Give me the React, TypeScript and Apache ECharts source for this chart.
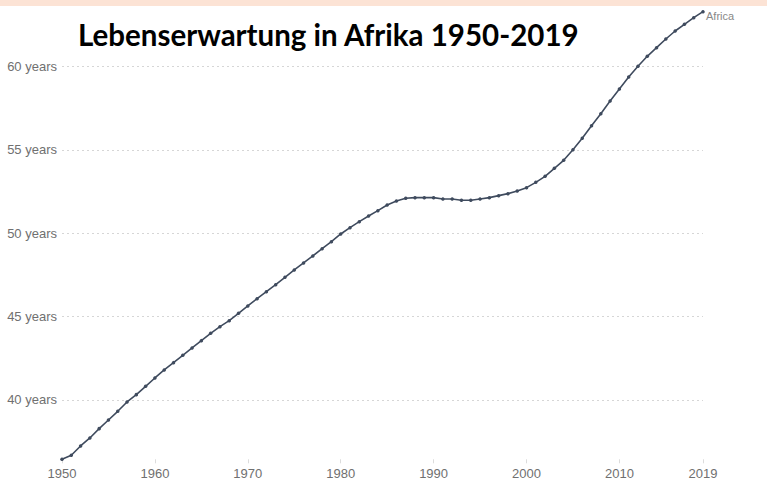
import React, { useEffect, useRef } from "react";
import * as echarts from "echarts";

const years = [
  1950, 1951, 1952, 1953, 1954, 1955, 1956, 1957, 1958, 1959,
  1960, 1961, 1962, 1963, 1964, 1965, 1966, 1967, 1968, 1969,
  1970, 1971, 1972, 1973, 1974, 1975, 1976, 1977, 1978, 1979,
  1980, 1981, 1982, 1983, 1984, 1985, 1986, 1987, 1988, 1989,
  1990, 1991, 1992, 1993, 1994, 1995, 1996, 1997, 1998, 1999,
  2000, 2001, 2002, 2003, 2004, 2005, 2006, 2007, 2008, 2009,
  2010, 2011, 2012, 2013, 2014, 2015, 2016, 2017, 2018, 2019,
];

const lifeExpectancy = [
  36.44, 36.68, 37.24, 37.72, 38.28, 38.8, 39.32, 39.88, 40.32, 40.82,
  41.32, 41.8, 42.24, 42.68, 43.12, 43.56, 44.0, 44.4, 44.76, 45.2,
  45.64, 46.08, 46.5, 46.92, 47.36, 47.8, 48.22, 48.64, 49.08, 49.5,
  49.96, 50.34, 50.7, 51.04, 51.36, 51.7, 51.94, 52.1, 52.14, 52.14,
  52.14, 52.06, 52.06, 51.98, 51.98, 52.06, 52.14, 52.26, 52.38, 52.54,
  52.74, 53.06, 53.42, 53.9, 54.38, 55.02, 55.7, 56.46, 57.18, 57.94,
  58.66, 59.38, 60.02, 60.62, 61.14, 61.66, 62.14, 62.54, 62.94, 63.3,
];

const seriesName = "Africa";
const titleText = "Lebenserwartung in Afrika 1950-2019";
const xTickLabels = ["1950", "1960", "1970", "1980", "1990", "2000", "2010", "2019"];

export default function App() {
  const ref = useRef<HTMLDivElement>(null);

  useEffect(() => {
    if (!ref.current) return;
    const chart = echarts.init(ref.current, null, { renderer: "svg" });
    const data = years.map((y, i) => [y, lifeExpectancy[i]]);
    chart.setOption({
      animation: false,
      backgroundColor: "#ffffff",
      graphic: [
        {
          type: "rect",
          left: 0,
          top: 0,
          shape: { width: 767, height: 6 },
          style: { fill: "#fce3d5" },
          z: 10,
        },
      ],
      title: {
        text: titleText,
        left: 73,
        top: 14,
        textStyle: {
          fontFamily: "Lato",
          fontWeight: "bold",
          fontSize: 29.5,
          color: "#000000",
        },
      },
      grid: { left: 62, right: 64, top: 10, bottom: 17.7, containLabel: false },
      xAxis: {
        type: "value",
        min: 1950,
        max: 2019,
        interval: 10,
        axisLine: { show: false },
        axisTick: { show: true, inside: true, length: 4, lineStyle: { color: "#dcdcdc" } },
        splitLine: { show: false },
        axisLabel: {
          margin: 4,
          color: "#707070",
          fontFamily: "Liberation Sans",
          fontSize: 13,
          showMaxLabel: true,
          formatter: (v: number) => {
            const s = String(v);
            return xTickLabels.includes(s) ? s : "";
          },
        },
      },
      yAxis: {
        type: "value",
        min: 36.2,
        max: 63.4,
        splitNumber: 5,
        minInterval: 5,
        maxInterval: 5,
        axisLine: { show: false },
        axisTick: { show: false },
        axisLabel: {
          margin: 5,
          color: "#707070",
          fontFamily: "Liberation Sans",
          fontSize: 13,
          showMinLabel: false,
          showMaxLabel: false,
          formatter: (v: number) => (v % 5 === 0 ? `${v} years` : ""),
        },
        splitLine: {
          show: true,
          showMinLine: false,
          showMaxLine: false,
          lineStyle: { color: "#d6d6d6", type: [2, 3], width: 1 },
        },
      },
      series: [
        {
          name: seriesName,
          type: "line",
          data,
          symbol: "circle",
          symbolSize: 3.5,
          showSymbol: true,
          lineStyle: { color: "#3f4b5e", width: 1.6 },
          itemStyle: { color: "#3f4b5e" },
          endLabel: {
            show: true,
            formatter: seriesName,
            color: "#888888",
            fontFamily: "Liberation Sans",
            fontSize: 11,
            distance: 3,
            offset: [0, 4],
          },
        },
      ],
    });
    return () => chart.dispose();
  }, []);

  return (
    <div
      ref={ref}
      style={{ position: "fixed", left: 0, top: 0, width: 767, height: 481 }}
    />
  );
}
